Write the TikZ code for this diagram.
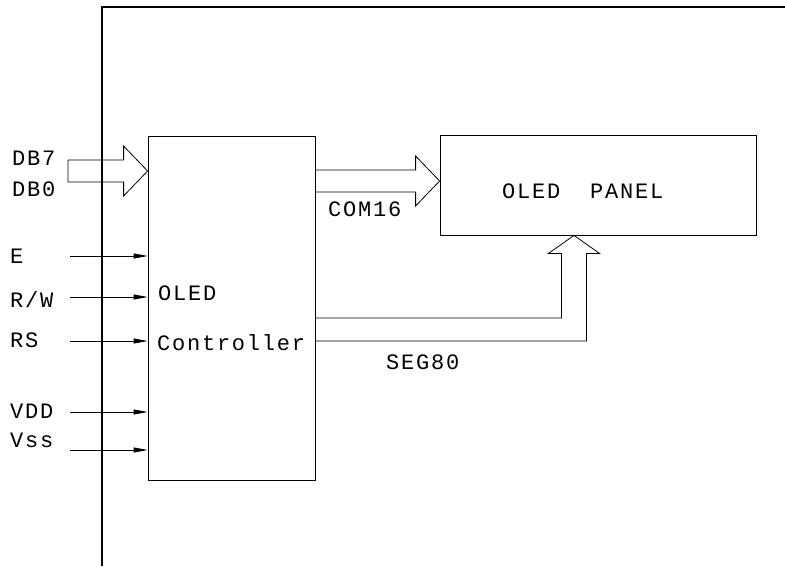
\documentclass[tikz,border=0pt]{standalone}
\usepackage{fontspec}
\setmonofont{Liberation Mono}[LetterSpace=8]
\usetikzlibrary{arrows.meta, calc}

% hollow bus arrow from tail to tip (horizontal)
\newcommand{\busarrow}[2]{%
  \draw[bus] ($(#1)+(0,-11)$) -- ($(#2)+(-24,-11)$) -- ($(#2)+(-24,-25)$) -- (#2)
    -- ($(#2)+(-24,25)$) -- ($(#2)+(-24,11)$) -- ($(#1)+(0,11)$) -- cycle;}

\begin{document}
\begin{tikzpicture}[x=1pt, y=-1pt,
    >={Triangle[length=14pt,width=5pt]},
    every node/.style={inner sep=0pt},
    lbl/.style={font=\ttfamily\fontsize{22}{24}\selectfont, anchor=base west},
    blk/.style={draw, line width=0.8pt},
    bus/.style={line width=0.8pt, line join=miter},
    sig/.style={->, line width=0.8pt},
    frame/.style={line width=1.2pt}
  ]
  \useasboundingbox (0,0) rectangle (785,566);

  % frame
  \draw[frame] (102,566) -- (102,7) -- (785,7);

  % blocks
  \node[blk, minimum width=167pt, minimum height=344pt] (ctrl) at (231.5,308) {};
  \node[blk, minimum width=316pt, minimum height=100pt] (panel) at (598,185) {};
  \node[lbl] (oled) at (158,300) {OLED};
  \node[lbl] (ctrltxt) at (157,350) {Controller};
  \node[lbl] (paneltxt) at (502,198) {OLED\ \ PANEL};

  % data bus in
  \coordinate (dbtail) at (68,171);
  \coordinate (dbtip) at (ctrl.west |- dbtail);
  \busarrow{dbtail}{dbtip}
  \node[lbl] (db7) at (12,165) {DB7};
  \node[lbl] (db0) at (12,196) {DB0};

  % COM bus
  \coordinate (comtail) at (ctrl.east |- 0,181);
  \coordinate (comtip) at (panel.west |- comtail);
  \busarrow{comtail}{comtip}
  \node[lbl] (com) at (328,216) {COM16};

  % SEG bus
  \coordinate (segtip) at ($(panel.south)+(-24,0)$);
  \coordinate (seg1) at (ctrl.east |- 0,318);
  \coordinate (seg2) at (ctrl.east |- 0,341);
  \draw[bus] (seg1) -| ($(segtip)+(-12.5,18)$) -- ++(-13,0) -- (segtip)
    -- ++(25.5,18) -- ++(-13,0) |- (seg2);
  \node[lbl] (seg) at (386,369) {SEG80};

  % control inputs
  \foreach \nm/\ly/\ty/\txt in {e/256/263/E, rw/297/307/{R/W}, rs/341/347/RS,
      vdd/412/418/VDD, vss/450/447/Vss}{
    \coordinate (in-\nm) at (70,\ly);
    \draw[sig] (in-\nm) -- (in-\nm -| ctrl.west);
    \node[lbl] (lab-\nm) at (10,\ty) {\txt};
  }
\end{tikzpicture}
\end{document}
